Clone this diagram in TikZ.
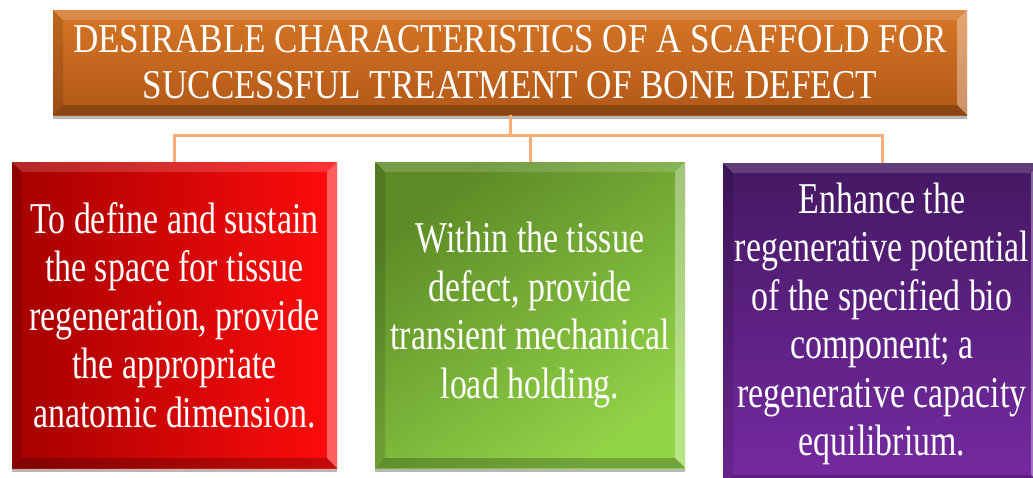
\documentclass[tikz,border=0pt]{standalone}
\usepackage{fontspec}
\setmainfont{Liberation Serif}
\newfontfamily\cond[FakeStretch=0.855]{Liberation Serif}
\newfontfamily\condb[FakeStretch=0.77]{Liberation Serif}
\usetikzlibrary{shadows,calc}
\definecolor{orTop}{RGB}{214,118,38}
\definecolor{orBot}{RGB}{178,88,24}
\definecolor{rdL}{RGB}{165,0,0}
\definecolor{rdR}{RGB}{255,12,12}
\definecolor{grTL}{RGB}{92,138,38}
\definecolor{grBR}{RGB}{146,212,72}
\definecolor{puTop}{RGB}{68,24,98}
\definecolor{puBot}{RGB}{118,42,162}
\definecolor{connc}{RGB}{248,174,118}
\begin{document}
\begin{tikzpicture}[x=1pt,y=-1pt,
  bevel/.style={path picture={
    \path (path picture bounding box.south west) coordinate (bSW)
          (path picture bounding box.north east) coordinate (bNE)
          (path picture bounding box.north west) coordinate (bNW)
          (path picture bounding box.south east) coordinate (bSE);
    \fill[white,opacity=.35] (bNE) -- (bSE) -- ([xshift=-10pt,yshift=10pt]bSE) -- ([xshift=-10pt,yshift=-10pt]bNE) -- cycle;
    \fill[white,opacity=.16] (bNW) -- (bNE) -- ([xshift=-10pt,yshift=-10pt]bNE) -- ([xshift=10pt,yshift=-10pt]bNW) -- cycle;
    \fill[black,opacity=.12] (bNW) -- (bSW) -- ([xshift=10pt,yshift=10pt]bSW) -- ([xshift=10pt,yshift=-10pt]bNW) -- cycle;
    \fill[black,opacity=.22] (bSW) -- (bSE) -- ([xshift=-10pt,yshift=10pt]bSE) -- ([xshift=10pt,yshift=10pt]bSW) -- cycle;
  }},
  box/.style={inner sep=0pt, align=center, text=white, bevel,
    font=\condb\fontsize{44}{48.5}\selectfont,
    drop shadow={shadow xshift=0pt,shadow yshift=-4pt,opacity=0.4,fill=black!70}},
  conn/.style={draw=connc, line width=3pt}]
\useasboundingbox (0,0) rectangle (1033,477);

\node[box, minimum width=914pt, minimum height=105pt,
      top color=orTop, bottom color=orBot,
      font=\cond\fontsize{41}{46}\selectfont] (top) at (510,62.5)
  {DESIRABLE CHARACTERISTICS OF A SCAFFOLD FOR\\SUCCESSFUL TREATMENT OF BONE DEFECT};

\node[box, minimum width=325pt, minimum height=306pt,
      left color=rdL, right color=rdR] (red) at (174.5,315)
  {To define and sustain\\the space for tissue\\regeneration, provide\\the appropriate\\anatomic dimension.};

\node[box, minimum width=310pt, minimum height=306pt,
      top color=grTL, bottom color=grBR, shading angle=35] (green) at (530,315)
  {Within the tissue\\defect, provide\\transient mechanical\\load holding.};

\node[box, minimum width=318pt, minimum height=322pt,
      top color=puTop, bottom color=puBot] (purple) at (882,324)
  {Enhance the\\regenerative potential\\of the specified bio\\component; a\\regenerative capacity\\equilibrium.};

\draw[conn] (top.south) -- ++(0,20) coordinate (j) -| (red.north);
\draw[conn] (j) -| (green.north);
\draw[conn] (j) -| (purple.north);
\end{tikzpicture}
\end{document}
